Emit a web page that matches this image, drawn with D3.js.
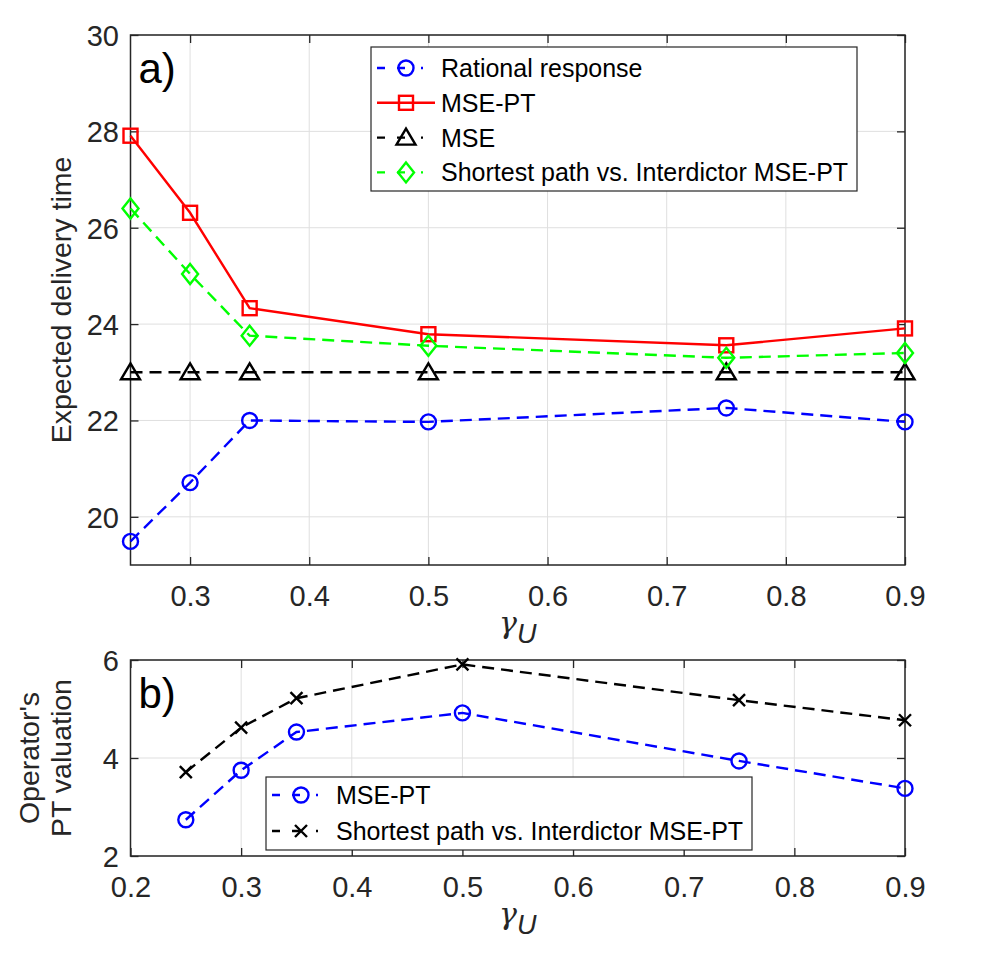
<!DOCTYPE html>
<html>
<head>
<meta charset="utf-8">
<script src="https://cdn.jsdelivr.net/npm/d3@7"></script>
<style>
  body { margin: 0; background: #fff; }
  svg { display: block; font-family: "Liberation Sans", Arial, Helvetica, sans-serif; }
</style>
</head>
<body>
<div id="chart"></div>
<script>
// gamma_U values shared by both panels
const gammaU = [0.25, 0.3, 0.35, 0.5, 0.75, 0.9];

// panel a) expected delivery time
const rationalResponse = [19.49, 20.71, 22.0, 21.97, 22.26, 21.97];
const msePT = [27.91, 26.31, 24.33, 23.79, 23.56, 23.91];
const mse = [23.0, 23.0, 23.0, 23.0, 23.0, 23.0];
const shortestVsInterdictor = [26.40, 25.04, 23.76, 23.55, 23.30, 23.40];

// panel b) operator's PT valuation
const msePTValuation = [2.74, 3.75, 4.53, 4.92, 3.94, 3.38];
const shortestValuation = [3.71, 4.62, 5.22, 5.91, 5.18, 4.77];

const topXTicks = [0.3, 0.4, 0.5, 0.6, 0.7, 0.8, 0.9];
const topYTicks = [20, 22, 24, 26, 28, 30];
const botXTicks = [0.2, 0.3, 0.4, 0.5, 0.6, 0.7, 0.8, 0.9];
const botYTicks = [2, 4, 6];

const W = 998, H = 973;
const axisColor = "#262626";
const svg = d3.select("#chart").append("svg").attr("width", W).attr("height", H);

// marker shapes drawn as open paths centred on (0,0)
const markers = {
  circle: g => g.append("circle").attr("r", 7.5),
  square: g => g.append("rect").attr("x", -7).attr("y", -7).attr("width", 14).attr("height", 14),
  triangle: g => g.append("path").attr("d", "M0,-9L9.5,7L-9.5,7Z"),
  diamond: g => g.append("path").attr("d", "M0,-10L8,0L0,10L-8,0Z"),
  cross: g => g.append("path").attr("d", "M-6,-6L6,6M-6,6L6,-6")
};

function drawPanel(cfg) {
  const x = d3.scaleLinear().domain(cfg.xDomain).range([cfg.left, cfg.right]);
  const y = d3.scaleLinear().domain(cfg.yDomain).range([cfg.bottom, cfg.top]);
  const g = svg.append("g");

  // grid
  g.append("g").selectAll("line").data(cfg.xTicks).join("line")
    .attr("x1", d => x(d)).attr("x2", d => x(d))
    .attr("y1", cfg.top).attr("y2", cfg.bottom)
    .attr("stroke", "#dfdfdf").attr("stroke-width", 1);
  g.append("g").selectAll("line").data(cfg.yTicks).join("line")
    .attr("x1", cfg.left).attr("x2", cfg.right)
    .attr("y1", d => y(d)).attr("y2", d => y(d))
    .attr("stroke", "#dfdfdf").attr("stroke-width", 1);

  // axes with inward ticks, on all four sides
  const tl = 8;
  const bottomAx = g.append("g").attr("transform", `translate(0,${cfg.bottom})`)
    .call(d3.axisBottom(x).tickValues(cfg.xTicks).tickSizeInner(-tl).tickSizeOuter(0).tickPadding(20).tickFormat(d3.format("")));
  const leftAx = g.append("g").attr("transform", `translate(${cfg.left},0)`)
    .call(d3.axisLeft(y).tickValues(cfg.yTicks).tickSizeInner(-tl).tickSizeOuter(0).tickPadding(22).tickFormat(d3.format("")));
  g.append("g").attr("transform", `translate(0,${cfg.top})`)
    .call(d3.axisTop(x).tickValues(cfg.xTicks).tickSizeInner(-tl).tickSizeOuter(0).tickFormat(""));
  g.append("g").attr("transform", `translate(${cfg.right},0)`)
    .call(d3.axisRight(y).tickValues(cfg.yTicks).tickSizeInner(-tl).tickSizeOuter(0).tickFormat(""));
  g.selectAll(".domain").remove();
  g.selectAll(".tick line").attr("stroke", axisColor).attr("stroke-width", 1.3);
  [bottomAx, leftAx].forEach(a => a.selectAll("text")
    .attr("fill", axisColor).style("font-size", "29px")
    .style("font-family", "'Liberation Sans', Arial, sans-serif"));
  bottomAx.selectAll("text").attr("dy", "0.71em");
  leftAx.selectAll("text").attr("dy", "0.36em").attr("x", -(cfg.left - 119)).attr("text-anchor", "end");

  g.append("rect")
    .attr("x", cfg.left).attr("y", cfg.top)
    .attr("width", cfg.right - cfg.left).attr("height", cfg.bottom - cfg.top)
    .attr("fill", "none").attr("stroke", axisColor).attr("stroke-width", 1.5);

  // series lines and markers
  const line = d3.line().x(d => x(d[0])).y(d => y(d[1]));
  cfg.series.forEach(s => {
    const pts = gammaU.map((v, i) => [v, s.values[i]]);
    g.append("path").datum(pts)
      .attr("d", line)
      .attr("fill", "none")
      .attr("stroke", s.color)
      .attr("stroke-width", 2.4)
      .attr("stroke-dasharray", s.dash ? "12,7" : null);
    g.append("g").selectAll("g").data(pts).join("g")
      .attr("transform", d => `translate(${x(d[0])},${y(d[1])})`)
      .each(function() { markers[s.marker](d3.select(this)); })
      .selectAll("*")
      .attr("fill", "none").attr("stroke", s.color).attr("stroke-width", 2.4);
  });

  // panel label
  g.append("text").attr("x", cfg.left + 8).attr("y", cfg.top + 48)
    .style("font-size", "42px").attr("fill", "#000").text(cfg.tag);

  // x label: gamma with subscript U
  const xl = g.append("text").attr("x", (cfg.left + cfg.right) / 2).attr("y", cfg.bottom + 68)
    .attr("text-anchor", "middle").attr("fill", axisColor)
    .style("font-family", "'DejaVu Serif', 'Liberation Serif', serif");
  xl.append("tspan").style("font-size", "30px").style("font-style", "italic").text("γ");
  xl.append("tspan").attr("dy", 10).style("font-size", "27px").style("font-style", "italic")
    .style("font-family", "'Liberation Sans', Arial, sans-serif").text("U");

  // y label
  const cy = (cfg.top + cfg.bottom) / 2;
  cfg.yLabel.forEach((txt, i) => {
    g.append("text")
      .attr("transform", `translate(${cfg.yLabelX[i]},${cy}) rotate(-90)`)
      .attr("text-anchor", "middle").attr("fill", axisColor)
      .style("font-size", "28.5px").text(txt);
  });

  // legend
  const L = cfg.legend;
  g.append("rect").attr("x", L.x).attr("y", L.y).attr("width", L.w).attr("height", L.h)
    .attr("fill", "#fff").attr("stroke", axisColor).attr("stroke-width", 1.2);
  cfg.series.forEach((s, i) => {
    const ry = L.y + L.first + i * L.step;
    g.append("line").attr("x1", L.x + 6).attr("x2", L.x + 64).attr("y1", ry).attr("y2", ry)
      .attr("stroke", s.color).attr("stroke-width", 2.4)
      .attr("stroke-dasharray", s.dash ? "8,12,8,16,2,30" : null);
    const mg = g.append("g").attr("transform", `translate(${L.x + 35},${ry})`);
    markers[s.marker](mg);
    mg.selectAll("*").attr("fill", "none").attr("stroke", s.color).attr("stroke-width", 2.4);
    g.append("text").attr("x", L.x + 70).attr("y", ry).attr("dy", "0.36em")
      .style("font-size", "25px").attr("fill", "#000").text(s.name);
  });
}

drawPanel({
  left: 130.5, right: 905, top: 35, bottom: 565,
  xDomain: [0.25, 0.9], yDomain: [19, 30],
  xTicks: topXTicks, yTicks: topYTicks,
  tag: "a)",
  yLabel: ["Expected delivery time"], yLabelX: [71],
  series: [
    { name: "Rational response", values: rationalResponse, color: "#0000ff", dash: true, marker: "circle" },
    { name: "MSE-PT", values: msePT, color: "#ff0000", dash: false, marker: "square" },
    { name: "MSE", values: mse, color: "#000000", dash: true, marker: "triangle" },
    { name: "Shortest path vs. Interdictor MSE-PT", values: shortestVsInterdictor, color: "#00ff00", dash: true, marker: "diamond" }
  ],
  legend: { x: 371, y: 47, w: 486, h: 144, first: 21, step: 34.8 }
});

drawPanel({
  left: 130.5, right: 905, top: 660, bottom: 856,
  xDomain: [0.2, 0.9], yDomain: [2, 6],
  xTicks: botXTicks, yTicks: botYTicks,
  tag: "b)",
  yLabel: ["Operator's", "PT valuation"], yLabelX: [39, 71],
  series: [
    { name: "MSE-PT", values: msePTValuation, color: "#0000ff", dash: true, marker: "circle" },
    { name: "Shortest path vs. Interdictor MSE-PT", values: shortestValuation, color: "#000000", dash: true, marker: "cross" }
  ],
  legend: { x: 266, y: 777, w: 486, h: 73, first: 18, step: 36 }
});
</script>
</body>
</html>
